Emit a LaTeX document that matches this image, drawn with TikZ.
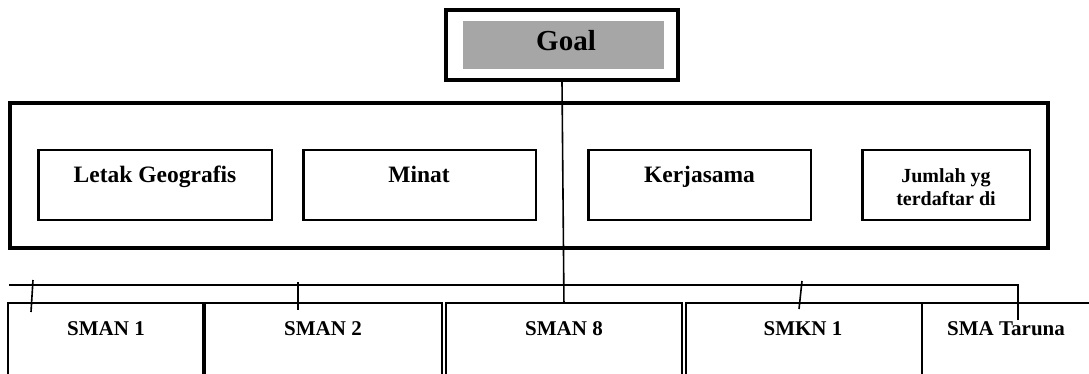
\documentclass[tikz,border=0pt]{standalone}
\usepackage{fontspec}
\setmainfont{Liberation Serif}
\definecolor{goalgray}{HTML}{A6A6A6}
\begin{document}
\begin{tikzpicture}[x=1pt,y=-1pt,
  outerbox/.style={draw,line width=4pt,inner sep=0pt},
  critbox/.style={draw,line width=2.5pt,inner sep=0pt,minimum height=69.5pt},
  altbox/.style={draw,line width=2pt,inner sep=0pt,minimum height=117pt},
  lbl/.style={anchor=base,inner sep=0pt,font=\bfseries\fontsize{23.5}{28}\selectfont},
  altlbl/.style={anchor=base,inner sep=0pt,font=\bfseries\fontsize{21}{25}\selectfont},
  conn/.style={line width=1.6pt}]
\clip (0,0) rectangle (1089,374);
\useasboundingbox (0,0) rectangle (1089,374);
% goal
\node[outerbox,minimum width=232pt,minimum height=70pt] (goal) at (562,45) {};
\node[fill=goalgray,inner sep=0pt,minimum width=201pt,minimum height=48pt] (goalfill) at (563.5,45) {};
\node[anchor=base,inner sep=0pt,font=\bfseries\fontsize{29}{34}\selectfont] (goaltxt) at (566,51) {Goal};
% criteria frame
\node[outerbox,minimum width=1038pt,minimum height=145pt] (frame) at (529,175.5) {};
\node[critbox,minimum width=233.5pt] (c1) at (155,185) {};
\node[critbox,minimum width=232.5pt] (c2) at (419.5,185) {};
\node[critbox,minimum width=222.5pt] (c3) at (699.5,185) {};
\node[critbox,minimum width=167.5pt] (c4) at (946,185) {};
\node[lbl] (c1t) at (155,183) {Letak Geografis};
\node[lbl] (c2t) at (419,183) {Minat};
\node[lbl] (c3t) at (699.5,183) {Kerjasama};
\node[anchor=base,inner sep=0pt,align=center,font=\bfseries\fontsize{20}{23}\selectfont] (c4t) at (946,205) {Jumlah yg\\terdaftar di};
% alternatives
\node[altbox,minimum width=195pt] (a1) at (105.5,361.5) {};
\node[altbox,minimum width=236.7pt] (a2) at (323.35,361.5) {};
\node[altbox,minimum width=235.5pt] (a3) at (563.95,361.5) {};
\node[altbox,minimum width=235.5pt] (a4) at (803.95,361.5) {};
\node[altbox,minimum width=178.3pt] (a5) at (1010.85,361.5) {};
\node[altlbl] (a1t) at (106,335) {SMAN 1};
\node[altlbl] (a2t) at (323,335) {SMAN 2};
\node[altlbl] (a3t) at (564,335) {SMAN 8};
\node[altlbl] (a4t) at (803,335) {SMKN 1};
\node[altlbl] (a5t) at (1006,335) {SMA Taruna};
% connectors
\coordinate (busL) at (9,285);
\coordinate (busR) at (1018,285);
\coordinate (tarEnd) at (1018,320);
\coordinate (t1a) at (33,280);
\coordinate (t1b) at (31,312);
\coordinate (t2a) at (298,282);
\coordinate (t2b) at (298,310);
\coordinate (t4a) at (802,281);
\coordinate (t4b) at (799,309);
\draw[conn] (goal.south) -- (a3.north);
\draw[conn] (busL) -- (busR) -- (tarEnd);
\draw[conn] (t1a) -- (t1b);
\draw[conn] (t2a) -- (t2b);
\draw[conn] (t4a) -- (t4b);
\end{tikzpicture}
\end{document}
